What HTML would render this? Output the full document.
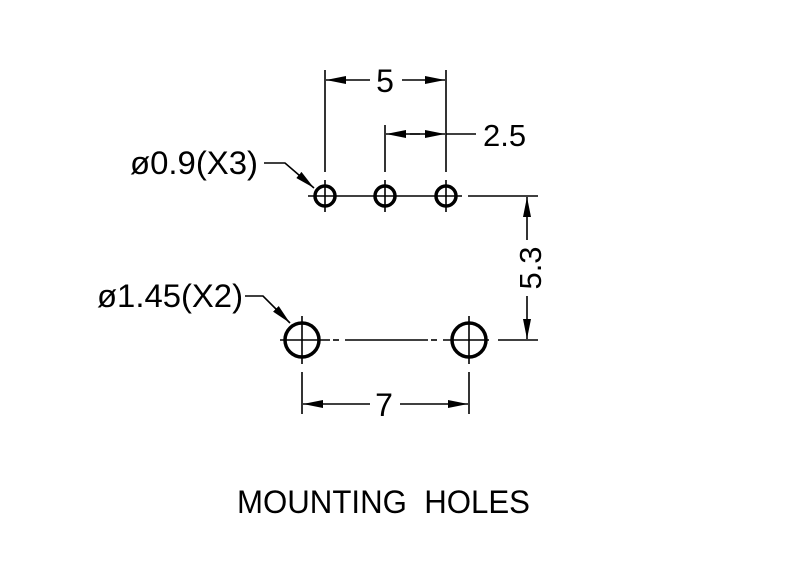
<!DOCTYPE html>
<html><head><meta charset="utf-8"><style>html,body{margin:0;padding:0;background:#fff}svg{display:block}</style></head>
<body>
<svg width="800" height="576" viewBox="0 0 800 576" xmlns="http://www.w3.org/2000/svg">
<defs>
<marker id="a" viewBox="0 0 20 8" refX="20" refY="4" markerWidth="20" markerHeight="8" markerUnits="userSpaceOnUse" orient="auto"><path d="M0,0 L20,4 L0,8 z" fill="#000"/></marker>
</defs>
<g stroke="#000" stroke-width="1.6" fill="none">
<line x1="325" y1="70" x2="325" y2="172"/>
<line x1="446" y1="70" x2="446" y2="172"/>
<line x1="385" y1="125" x2="385" y2="172"/>
<line x1="370" y1="80" x2="326" y2="80" marker-end="url(#a)"/>
<line x1="402" y1="80" x2="445" y2="80" marker-end="url(#a)"/>
<line x1="420" y1="134" x2="386" y2="134" marker-end="url(#a)"/>
<line x1="410" y1="134" x2="445" y2="134" marker-end="url(#a)"/>
<line x1="446" y1="134" x2="476" y2="134"/>
<line x1="308" y1="196" x2="462" y2="196"/>
<line x1="468" y1="196" x2="538" y2="196"/>
<line x1="325" y1="180" x2="325" y2="212"/>
<line x1="385" y1="180" x2="385" y2="212"/>
<line x1="446" y1="180" x2="446" y2="212"/>
<line x1="527" y1="240" x2="527" y2="197" marker-end="url(#a)"/>
<line x1="527" y1="296" x2="527" y2="339" marker-end="url(#a)"/>
<line x1="280" y1="340" x2="330" y2="340"/>
<line x1="333" y1="340" x2="339" y2="340"/>
<line x1="345" y1="340" x2="428" y2="340"/>
<line x1="431" y1="340" x2="437" y2="340"/>
<line x1="443" y1="340" x2="489" y2="340"/>
<line x1="498" y1="340" x2="538" y2="340"/>
<line x1="302" y1="316" x2="302" y2="364"/>
<line x1="469" y1="316" x2="469" y2="364"/>
<line x1="302" y1="372" x2="302" y2="414"/>
<line x1="469" y1="372" x2="469" y2="414"/>
<line x1="370" y1="404" x2="303" y2="404" marker-end="url(#a)"/>
<line x1="400" y1="404" x2="468" y2="404" marker-end="url(#a)"/>
<polyline points="264,163 285,163 314,188" marker-end="url(#a)"/>
<polyline points="245,296 263,296 290,323" marker-end="url(#a)"/>
</g>
<g stroke="#000" stroke-width="3.5" fill="none">
<circle cx="325" cy="196" r="10"/>
<circle cx="385" cy="196" r="10"/>
<circle cx="446" cy="196" r="10"/>
<circle cx="302" cy="340" r="17"/>
<circle cx="469" cy="340" r="17"/>
</g>
<g font-family="Liberation Sans, sans-serif" fill="#000">
<text x="385" y="92" font-size="32" text-anchor="middle">5</text>
<text x="483" y="146" font-size="31">2.5</text>
<text x="384" y="416" font-size="32" text-anchor="middle">7</text>
<text x="0" y="0" font-size="31" text-anchor="middle" transform="translate(541,268) rotate(-90)">5.3</text>
<text x="130" y="174" font-size="32" textLength="128" lengthAdjust="spacingAndGlyphs">ø0.9(X3)</text>
<text x="97" y="307" font-size="32" textLength="146" lengthAdjust="spacingAndGlyphs">ø1.45(X2)</text>
<text x="237" y="513" font-size="32" textLength="293" lengthAdjust="spacingAndGlyphs" xml:space="preserve">MOUNTING  HOLES</text>
</g>
</svg>
</body></html>
